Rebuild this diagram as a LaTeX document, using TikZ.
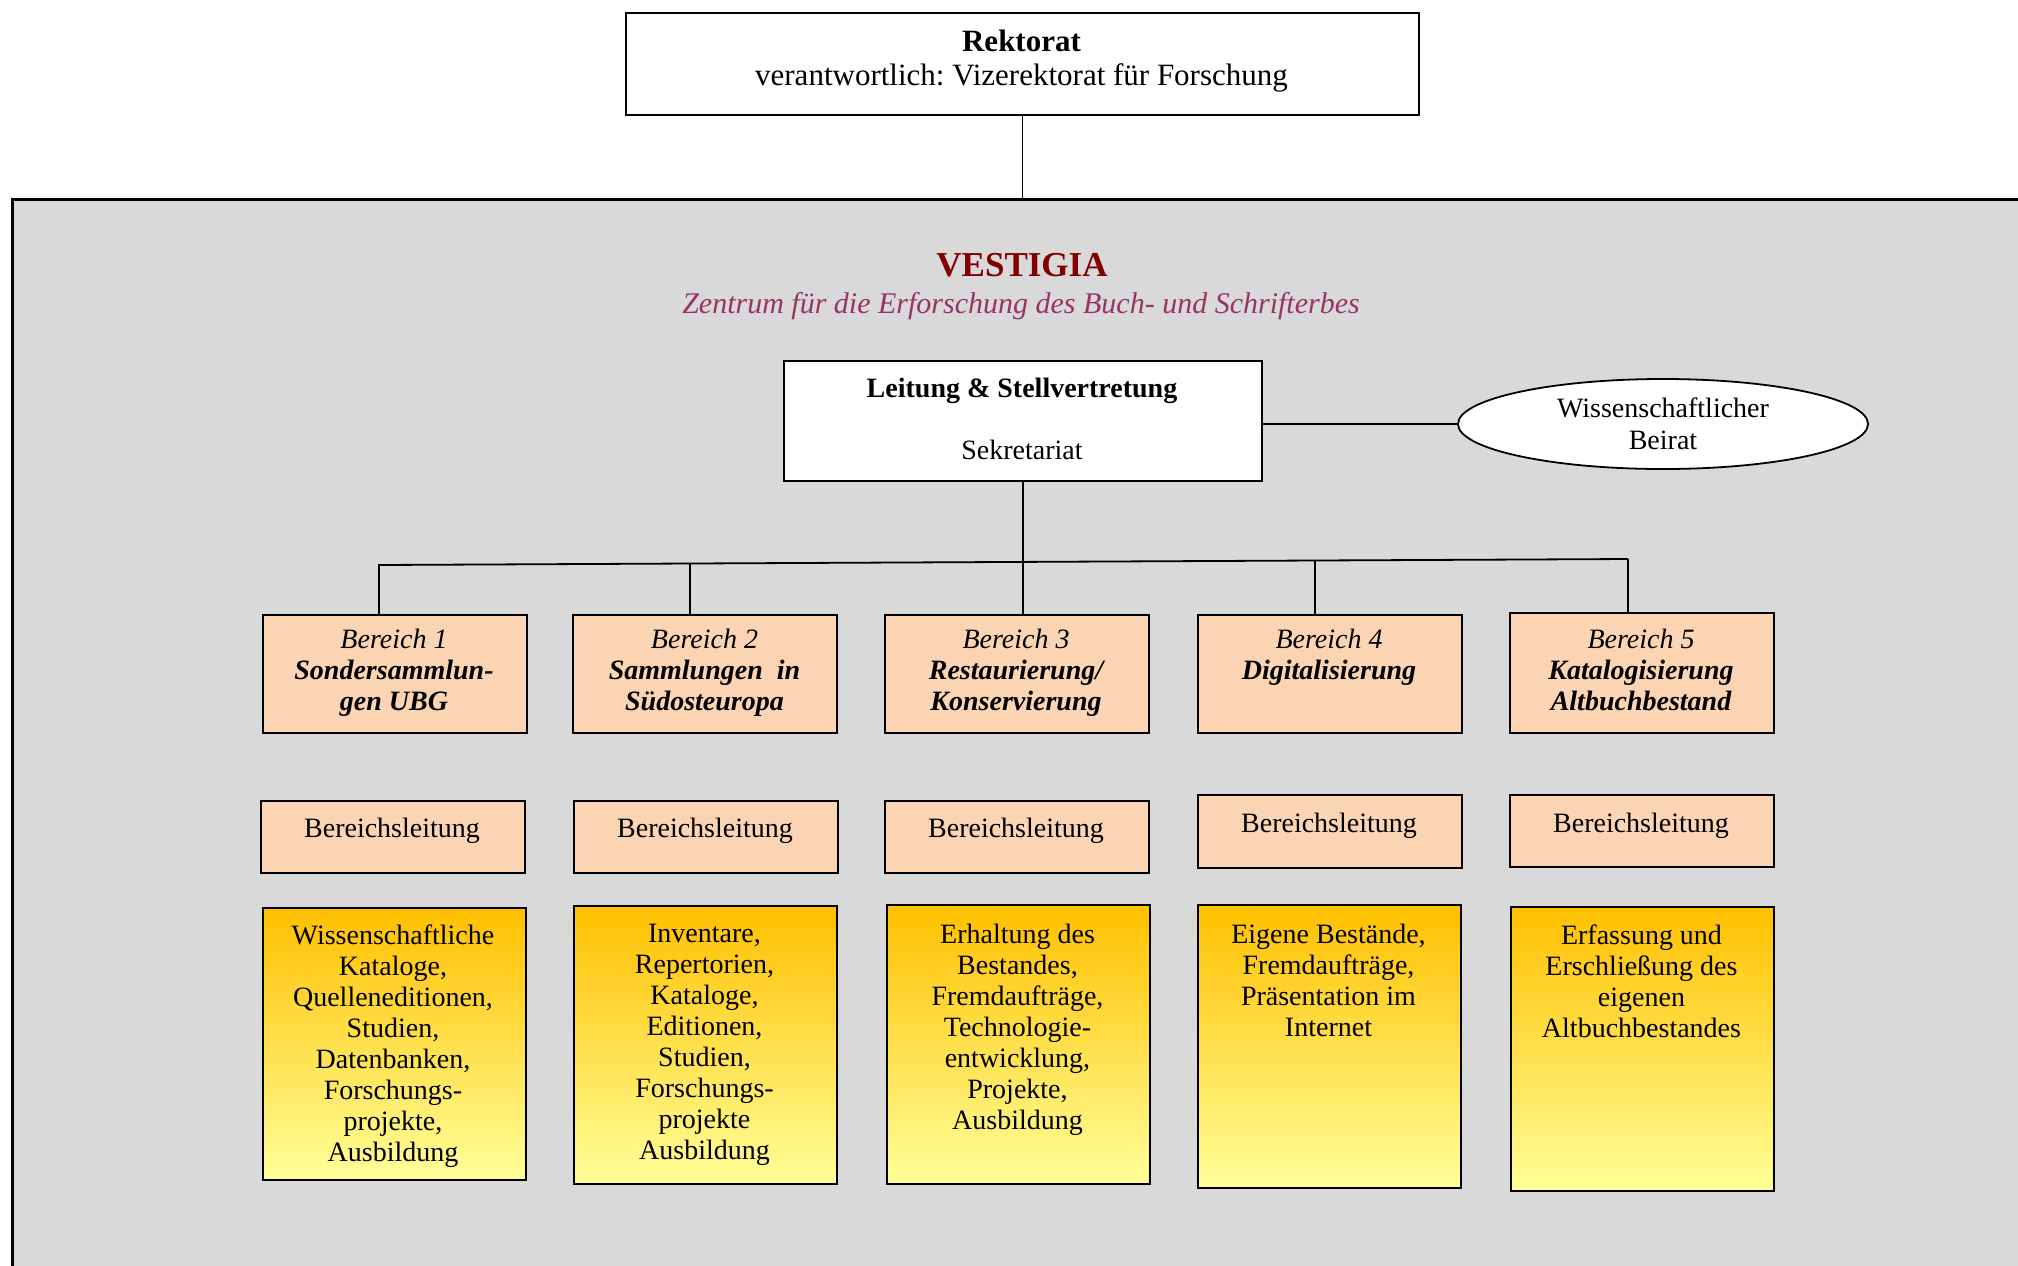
\documentclass[tikz,border=0pt]{standalone}
\usepackage{fontspec}
\setmainfont{Liberation Serif}
\usetikzlibrary{shapes.geometric}
\frenchspacing
\definecolor{zonegray}{HTML}{D9D9D9}
\definecolor{peach}{HTML}{FBD4B4}
\definecolor{gold}{HTML}{FFC000}
\definecolor{paleyellow}{HTML}{FFFF99}
\definecolor{darkred}{HTML}{800000}
\definecolor{plum}{HTML}{993366}
\tikzset{
  boxline/.style={draw=black, line width=0.9pt, inner sep=0pt},
  whitebox/.style={boxline, fill=white, anchor=north west},
  bereichbox/.style={boxline, fill=peach, minimum width=132pt, minimum height=59pt, anchor=north west},
  leitbox/.style={boxline, fill=peach, minimum width=132pt, minimum height=36pt, anchor=north west},
  taskbox/.style={boxline, top color=gold, bottom color=paleyellow, minimum width=131.5pt, anchor=north west},
  txt/.style={inner sep=0pt, align=center, font=\fontsize{14}{15.5}\selectfont, anchor=north},
  conn/.style={draw=black, line width=0.9pt},
}
\begin{document}
\begin{tikzpicture}[x=0.5pt, y=-0.5pt]
\useasboundingbox (0,0) rectangle (2018,1265);
\clip (0,0) rectangle (2018,1265);

% grey zone
\node[draw=black, line width=1.5pt, fill=zonegray, anchor=north west, inner sep=0pt,
      minimum width=1100pt, minimum height=600pt] (zone) at (11,198) {};

% Rektorat
\node[whitebox, minimum width=396.5pt, minimum height=51pt] (rek) at (625,12) {};
\node[txt, font=\fontsize{15.5}{16.8}\selectfont] (rektxt) at (1021.5,30)
  {\textbf{Rektorat}\\verantwortlich: Vizerektorat für Forschung};
\draw[conn] (rek.south) -- (rek.south |- zone.north);

% title
\node[anchor=base, inner sep=0pt, font=\fontsize{17.5}{20}\selectfont\bfseries, text=darkred] (title) at (1022,276) {VESTIGIA};
\node[anchor=base, inner sep=0pt, font=\fontsize{15}{18}\selectfont\itshape, text=plum] (subtitle) at (1021,313)
  {Zentrum für die Erforschung des Buch- und Schrifterbes};

% Leitung
\node[whitebox, minimum width=239pt, minimum height=60pt] (lei) at (783,360) {};
\node[txt] (leitxt) at (1022,378) {\textbf{Leitung \& Stellvertretung}\\[15.5pt]Sekretariat};

% Beirat
\node[ellipse, boxline, fill=white, minimum width=205pt, minimum height=45pt, align=center,
      font=\fontsize{14}{16}\selectfont] (beirat) at (1663,424) {Wissenschaftlicher\\Beirat};
\draw[conn] (beirat.west) -- (beirat.west -| lei.east);

% Bereich boxes
\node[bereichbox] (b1) at (262,614) {};
\node[bereichbox] (b2) at (572,614) {};
\node[bereichbox] (b3) at (884,614) {};
\node[bereichbox] (b4) at (1197,614) {};
\node[bereichbox, minimum height=60pt] (b5) at (1509,612) {};

\node[txt] (b1t) at (394,629) {{\itshape Bereich 1}\\{\bfseries\itshape Sondersammlun-}\\{\bfseries\itshape gen UBG}};
\node[txt] (b2t) at (704.5,629) {{\itshape Bereich 2}\\{\bfseries\itshape Sammlungen\ \ in}\\{\bfseries\itshape Südosteuropa}};
\node[txt] (b3t) at (1016,629) {{\itshape Bereich 3}\\{\bfseries\itshape Restaurierung/}\\{\bfseries\itshape Konservierung}};
\node[txt] (b4t) at (1329,629) {{\itshape Bereich 4}\\{\bfseries\itshape Digitalisierung}};
\node[txt] (b5t) at (1641,629) {{\itshape Bereich 5}\\{\bfseries\itshape Katalogisierung}\\{\bfseries\itshape Altbuchbestand}};

% connectors
\coordinate (busL) at (378,565);
\coordinate (busR) at (1628,559);
\draw[conn] (busL) -- (busR);
\coordinate (d1) at (379,565);
\coordinate (d2) at (690,563.5);
\coordinate (d4) at (1315,561);
\coordinate (d5) at (1628,559);
\draw[conn] (d1) -- (d1 |- b1.north);
\draw[conn] (d2) -- (d2 |- b2.north);
\draw[conn] (lei.south) -- (lei.south |- b3.north);
\draw[conn] (d4) -- (d4 |- b4.north);
\draw[conn] (d5) -- (d5 |- b5.north);

% Bereichsleitung
\node[leitbox] (l1) at (260,800) {};
\node[leitbox] (l2) at (573,800) {};
\node[leitbox] (l3) at (884,800) {};
\node[leitbox, minimum height=36.5pt] (l4) at (1197,794) {};
\node[leitbox] (l5) at (1509,794) {};
\node[txt] (l1t) at (392,818) {Bereichsleitung};
\node[txt] (l2t) at (705,818) {Bereichsleitung};
\node[txt] (l3t) at (1016,818) {Bereichsleitung};
\node[txt] (l4t) at (1329,813) {Bereichsleitung};
\node[txt] (l5t) at (1641,813) {Bereichsleitung};

% task boxes
\node[taskbox, minimum height=136pt] (y1) at (262,907) {};
\node[taskbox, minimum height=139pt] (y2) at (573,905) {};
\node[taskbox, minimum height=139.5pt] (y3) at (886,904) {};
\node[taskbox, minimum height=141.5pt] (y4) at (1197,904) {};
\node[taskbox, minimum height=142pt] (y5) at (1510,906) {};
\node[txt] (y1t) at (393,924) {Wissenschaftliche\\Kataloge,\\Quelleneditionen,\\Studien,\\Datenbanken,\\Forschungs-\\projekte,\\Ausbildung};
\node[txt] (y2t) at (704.5,924) {Inventare,\\Repertorien,\\Kataloge,\\Editionen,\\Studien,\\Forschungs-\\projekte\\Ausbildung};
\node[txt] (y3t) at (1017.5,924) {Erhaltung des\\Bestandes,\\Fremdaufträge,\\Technologie-\\entwicklung,\\Projekte,\\Ausbildung};
\node[txt] (y4t) at (1328.5,924) {Eigene Bestände,\\Fremdaufträge,\\Präsentation im\\Internet};
\node[txt] (y5t) at (1641.5,924) {Erfassung und\\Erschließung des\\eigenen\\Altbuchbestandes};
\end{tikzpicture}
\end{document}
